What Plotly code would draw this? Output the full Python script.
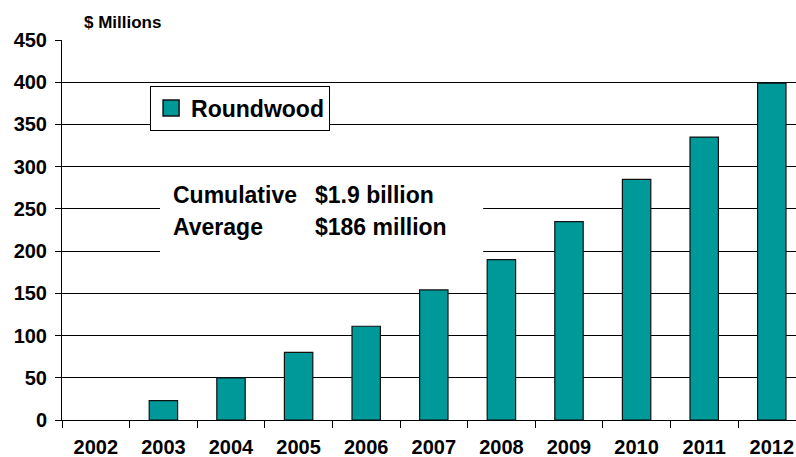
import plotly.graph_objects as go

years = ["2002", "2003", "2004", "2005", "2006", "2007", "2008", "2009", "2010", "2011", "2012"]
roundwood = [0, 23, 50, 80, 111, 154, 190, 235, 285, 335, 399]
y_ticks = [0, 50, 100, 150, 200, 250, 300, 350, 400, 450]
series_name = "Roundwood"
unit_label = "$ Millions"
note_labels = ["Cumulative", "Average"]
note_values = ["$1.9 billion", "$186 million"]

FONT = "Liberation Sans, Arial, sans-serif"
TEAL = "#009999"
EDGE = "#111111"

fig = go.Figure()
fig.add_trace(go.Bar(
    x=years, y=[v if v else None for v in roundwood], name=series_name,
    marker=dict(color=TEAL, line=dict(color=EDGE, width=1.2)),
    width=0.42, showlegend=False,
))
# legend proxy with a larger square swatch
fig.add_trace(go.Scatter(
    x=[None], y=[None], mode="markers", name=series_name,
    marker=dict(symbol="square", size=16, color=TEAL, line=dict(color=EDGE, width=1.5)),
    showlegend=True, hoverinfo="skip",
))

# white panel behind the notes (hides gridlines)
fig.add_shape(type="rect", xref="x", yref="y", x0=0.95, x1=5.73, y0=185, y1=290,
              fillcolor="white", line=dict(width=0), layer="between")

rows_y = [266, 228]
for lbl, val, yy in zip(note_labels, note_values, rows_y):
    fig.add_annotation(x=1.11, y=yy, xref="x", yref="y", text=lbl, showarrow=False,
                       xanchor="left", yanchor="middle",
                       font=dict(family=FONT, size=23, color="black", weight="bold"))
    fig.add_annotation(x=3.21, y=yy, xref="x", yref="y", text=val, showarrow=False,
                       xanchor="left", yanchor="middle",
                       font=dict(family=FONT, size=23, color="black", weight="bold"))

fig.add_annotation(x=0.027, y=1.045, xref="paper", yref="paper", text=unit_label,
                   showarrow=False, xanchor="left", yanchor="middle",
                   font=dict(family=FONT, size=17, color="black", weight="bold"))

fig.update_layout(
    width=796, height=457,
    margin=dict(l=62, r=0, t=40, b=37, autoexpand=False),
    paper_bgcolor="white", plot_bgcolor="white",
    font=dict(family=FONT, color="black"),
    legend=dict(x=0.12, y=0.88, xanchor="left", yanchor="top",
                bgcolor="white", bordercolor="black", borderwidth=1,
                font=dict(family=FONT, size=23, color="black", weight="bold")),
)
fig.update_xaxes(
    type="category", range=[-0.5, 10.358], automargin=False,
    showline=True, linecolor="black", linewidth=1,
    ticks="outside", ticklen=7, tickcolor="black", tickson="boundaries",
    showgrid=False, ticklabelstandoff=9,
    tickfont=dict(family=FONT, size=20, color="black", weight="bold"),
)
fig.update_yaxes(
    range=[0, 450], tickvals=y_ticks, automargin=False,
    showline=True, linecolor="black", linewidth=1,
    ticks="outside", ticklen=6, tickcolor="black", ticklabelstandoff=4,
    showgrid=True, gridcolor="black", gridwidth=1, zeroline=False,
    tickfont=dict(family=FONT, size=20, color="black", weight="bold"),
)

fig.write_html(
    "out.html",
    config={"displayModeBar": False},
    post_script="document.body.style.margin='0';document.body.style.overflow='hidden';",
)
